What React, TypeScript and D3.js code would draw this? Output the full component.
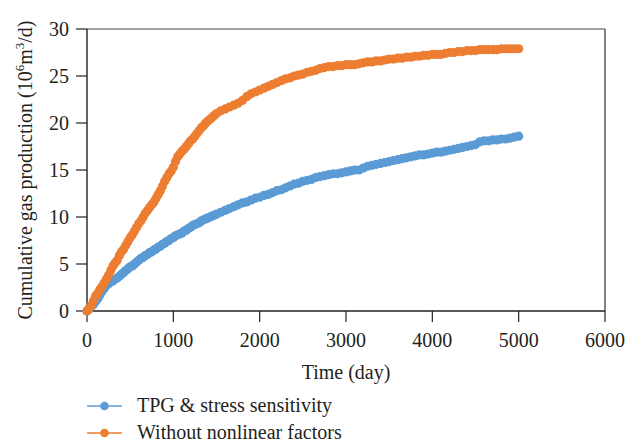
import React from "react";
import * as d3 from "d3";

const days: number[] = [
  0, 25, 50, 75, 100, 125, 150, 175, 200, 225, 250, 275, 300, 325, 350, 375, 400, 425, 450, 475,
  500, 525, 550, 575, 600, 625, 650, 675, 700, 725, 750, 775, 800, 825, 850, 875, 900, 925, 950, 975,
  1000, 1025, 1050, 1075, 1100, 1125, 1150, 1175, 1200, 1225, 1250, 1275, 1300, 1325, 1350, 1375, 1400, 1425, 1450, 1475,
  1500, 1550, 1600, 1650, 1700, 1750, 1800, 1850, 1900, 1950,
  2000, 2050, 2100, 2150, 2200, 2250, 2300, 2350, 2400, 2450, 2500, 2550, 2600, 2650, 2700, 2750, 2800, 2850, 2900, 2950,
  3000, 3050, 3100, 3150, 3200, 3250, 3300, 3350, 3400, 3450, 3500, 3550, 3600, 3650, 3700, 3750, 3800, 3850, 3900, 3950,
  4000, 4050, 4100, 4150, 4200, 4250, 4300, 4350, 4400, 4450, 4500, 4550, 4600, 4650, 4700, 4750, 4800, 4850, 4900, 4950,
  5000,
];

const tpgStress: number[] = [
  0, 0.2, 0.5, 0.7, 1.0, 1.3, 1.7, 2.1, 2.4, 2.7, 2.9, 3.1, 3.2, 3.4, 3.5, 3.7, 3.9, 4.1, 4.3, 4.5,
  4.7, 4.8, 5.0, 5.2, 5.4, 5.6, 5.7, 5.9, 6.0, 6.2, 6.3, 6.5, 6.6, 6.8, 6.9, 7.1, 7.2, 7.4, 7.5, 7.7,
  7.8, 8.0, 8.1, 8.2, 8.3, 8.5, 8.6, 8.8, 8.9, 9.1, 9.2, 9.3, 9.4, 9.6, 9.7, 9.8, 9.9, 10.0, 10.1, 10.2,
  10.3, 10.5, 10.7, 10.9, 11.1, 11.3, 11.5, 11.6, 11.8, 12.0,
  12.1, 12.3, 12.4, 12.6, 12.8, 12.9, 13.1, 13.3, 13.5, 13.6, 13.8, 13.9, 14.0, 14.2, 14.3, 14.4, 14.5, 14.6, 14.6, 14.7,
  14.8, 14.9, 15.0, 15.0, 15.2, 15.4, 15.5, 15.6, 15.7, 15.8, 15.9, 16.0, 16.1, 16.2, 16.3, 16.4, 16.5, 16.6, 16.6, 16.7,
  16.8, 16.9, 16.9, 17.0, 17.1, 17.2, 17.3, 17.4, 17.5, 17.6, 17.7, 18.0, 18.1, 18.1, 18.2, 18.2, 18.3, 18.3, 18.4, 18.5,
  18.6,
];

const withoutNonlinear: number[] = [
  0, 0.3, 0.6, 1.1, 1.6, 1.9, 2.3, 2.6, 3.0, 3.4, 3.8, 4.3, 4.8, 5.1, 5.4, 5.9, 6.3, 6.6, 7.0, 7.4,
  7.8, 8.1, 8.5, 8.9, 9.3, 9.6, 10.0, 10.4, 10.7, 11.0, 11.3, 11.6, 12.0, 12.4, 12.8, 13.3, 13.8, 14.2, 14.6, 14.9,
  15.3, 15.9, 16.4, 16.7, 17.0, 17.2, 17.5, 17.8, 18.1, 18.3, 18.6, 18.9, 19.2, 19.5, 19.7, 20.0, 20.2, 20.4, 20.6, 20.8,
  21.0, 21.3, 21.5, 21.7, 21.9, 22.1, 22.4, 22.8, 23.1, 23.3,
  23.5, 23.7, 23.9, 24.1, 24.3, 24.5, 24.7, 24.8, 25.0, 25.1, 25.2, 25.4, 25.5, 25.6, 25.8, 25.9, 26.0, 26.0, 26.1, 26.1,
  26.2, 26.2, 26.2, 26.3, 26.4, 26.5, 26.5, 26.6, 26.6, 26.7, 26.8, 26.8, 26.9, 26.9, 27.0, 27.0, 27.1, 27.1, 27.2, 27.2,
  27.3, 27.3, 27.3, 27.4, 27.5, 27.5, 27.6, 27.6, 27.7, 27.7, 27.7, 27.8, 27.8, 27.8, 27.8, 27.8, 27.9, 27.9, 27.9, 27.9,
  27.9,
];

const xTicks: number[] = [0, 1000, 2000, 3000, 4000, 5000, 6000];
const yTicks: number[] = [0, 5, 10, 15, 20, 25, 30];
const seriesNames: string[] = ["TPG & stress sensitivity", "Without nonlinear factors"];
const seriesColors: string[] = ["#5B9BD5", "#ED7D31"];

const W = 638;
const H = 446;
const M = { left: 87, right: 605, top: 29, bottom: 311 };
const FONT = "'Liberation Serif', 'Times New Roman', serif";
const FS = 20;

export default function App() {
  const x = d3.scaleLinear().domain([0, 6000]).range([M.left, M.right]);
  const y = d3.scaleLinear().domain([0, 30]).range([M.bottom, M.top]);
  const line = d3
    .line<[number, number]>()
    .x((d) => x(d[0]))
    .y((d) => y(d[1]));

  const series = [tpgStress, withoutNonlinear].map((vals, i) => ({
    name: seriesNames[i],
    color: seriesColors[i],
    pts: days.map((d, j) => [d, vals[j]] as [number, number]),
  }));

  return (
    <svg
      width={W}
      height={H}
      style={{ position: "absolute", left: 0, top: 0, background: "#fff" }}
      fontFamily={FONT}
    >
      <line x1={M.left} x2={M.right} y1={M.top} y2={M.top} stroke="#444" strokeWidth={1} />
      <line x1={M.right} x2={M.right} y1={M.top} y2={M.bottom} stroke="#333" strokeWidth={1.2} />
      <line x1={M.left} x2={M.left} y1={M.top} y2={M.bottom} stroke="#222" strokeWidth={1.4} />
      <line x1={M.left} x2={M.right} y1={M.bottom} y2={M.bottom} stroke="#222" strokeWidth={1.4} />
      {yTicks.map((t) => (
        <g key={"y" + t}>
          <line x1={M.left - 11} x2={M.left} y1={y(t)} y2={y(t)} stroke="#222" strokeWidth={1.2} />
          <text x={69} y={y(t)} dy="0.34em" textAnchor="end" fontSize={FS} fill="#231f20">
            {t}
          </text>
        </g>
      ))}
      {xTicks.map((t) => (
        <g key={"x" + t}>
          <line x1={x(t)} x2={x(t)} y1={M.bottom} y2={M.bottom + 11} stroke="#222" strokeWidth={1.2} />
          <text x={x(t)} y={347} textAnchor="middle" fontSize={FS} fill="#231f20">
            {t}
          </text>
        </g>
      ))}
      <text x={346} y={379} textAnchor="middle" fontSize={FS} fill="#231f20">
        Time (day)
      </text>
      <text
        transform={`translate(32, ${170}) rotate(-90)`}
        textAnchor="middle"
        fontSize={FS}
        fill="#231f20"
      >
        Cumulative gas production (10
        <tspan dy={-8} fontSize={13}>6</tspan>
        <tspan dy={8}>m</tspan>
        <tspan dy={-8} fontSize={13}>3</tspan>
        <tspan dy={8}>/d)</tspan>
      </text>

      {series.map((s) => (
        <g key={s.name}>
          <path d={line(s.pts) || ""} fill="none" stroke={s.color} strokeWidth={1.5} />
          {s.pts.map((p, j) => (
            <circle key={j} cx={x(p[0])} cy={y(p[1])} r={4.6} fill={s.color} />
          ))}
        </g>
      ))}

      {series.map((s, i) => {
        const ly = 406 + i * 27;
        return (
          <g key={"lg" + i}>
            <line x1={87} x2={122} y1={ly} y2={ly} stroke={s.color} strokeWidth={1.5} />
            <circle cx={104.5} cy={ly} r={4.3} fill={s.color} />
            <text x={137} y={ly + 6} fontSize={FS} fill="#231f20">
              {s.name}
            </text>
          </g>
        );
      })}
    </svg>
  );
}
